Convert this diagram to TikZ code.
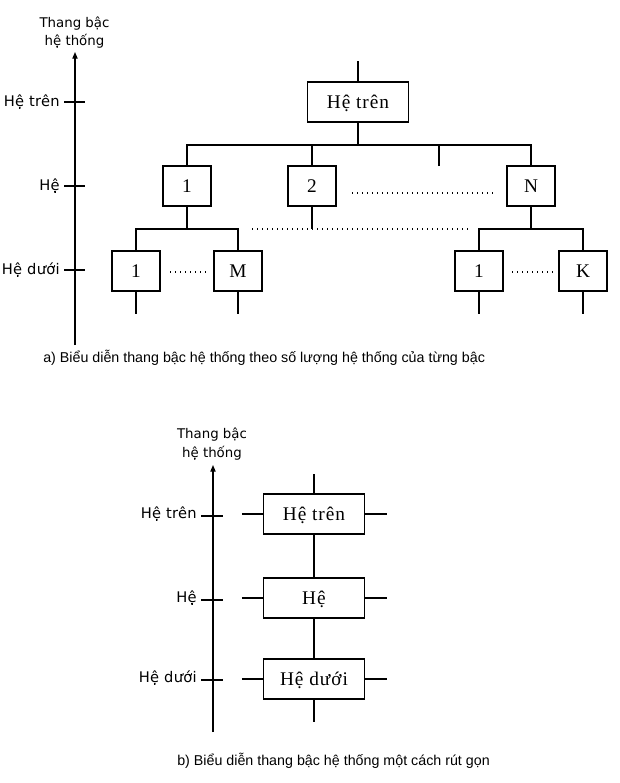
\documentclass[tikz,border=0pt]{standalone}
\usepackage{fontspec}
\setmainfont{Liberation Serif}[LetterSpace=5]
\newfontfamily\axf{DejaVu Sans}
\newfontfamily\labf{DejaVu Sans}[LetterSpace=2]
\newfontfamily\capf{Liberation Sans}
\usetikzlibrary{arrows.meta}
\tikzset{
  ln/.style={line width=0.8pt},
  axisline/.style={line width=0.8pt,-{Triangle[length=5pt,width=4pt]}},
  bx/.style={draw,line width=0.8pt,inner sep=0pt,minimum height=30pt,
    text height=10pt,text depth=0pt,font=\fontsize{14.5}{16}\selectfont},
  sbx/.style={bx,minimum width=36pt},
  wbx/.style={bx,minimum width=76pt},
  lab/.style={anchor=base east,inner sep=0pt,font=\labf\fontsize{11}{13}\selectfont},
  ttl/.style={anchor=base,inner sep=0pt,font=\axf\fontsize{10}{12}\selectfont},
  captxt/.style={anchor=base west,inner sep=0pt,font=\capf\fontsize{10.7}{13}\selectfont},
  dots/.style={line width=1pt,dash pattern=on 1pt off 2.75pt},
}
\begin{document}
\begin{tikzpicture}[x=0.75pt,y=-0.75pt]
\useasboundingbox (0,0) rectangle (619,783);

% ---------------- part a ----------------
\coordinate (aBot) at (75,345);
\coordinate (aTop) at (75,52);
\draw[axisline] (aBot) -- (aTop);
\node[ttl] (aT1) at (74.5,27) {Thang bậc};
\node[ttl] (aT2) at (74.5,45) {hệ thống};
\foreach \y/\n in {102/1,186/2,270/3}{
  \coordinate (atl\n) at (64,\y);
  \coordinate (atr\n) at (85,\y);
  \draw[ln] (atl\n) -- (atr\n);
}
\node[lab] (aL1) at (60,106) {Hệ trên};
\node[lab] (aL2) at (60,190) {Hệ};
\node[lab] (aL3) at (60,274) {Hệ dưới};

\node[wbx] (top) at (358,102) {Hệ trên};
\node[sbx] (n1) at (187,186) {1};
\node[sbx] (n2) at (312,186) {2};
\node[sbx] (nN) at (531,186) {N};
\node[sbx] (l1) at (136,271) {1};
\node[sbx] (lM) at (238,271) {M};
\node[sbx] (r1) at (479,271) {1};
\node[sbx] (rK) at (583,271) {K};

\coordinate (topin) at (358,61);
\coordinate (bus) at (358,145);
\coordinate (stub) at (439,166);
\draw[ln] (topin) -- (top.north);
\draw[ln] (top.south) -- (bus);
\draw[ln] (n1.north) |- (bus) -| (nN.north);
\draw[ln] (n2.north) -- (n2.north |- bus);
\draw[ln] (stub) -- (stub |- bus);

\coordinate (b1) at (187,229);
\draw[ln] (n1.south) -- (b1);
\draw[ln] (l1.north) |- (b1) -| (lM.north);
\coordinate (b2) at (312,229);
\draw[ln] (n2.south) -- (b2);
\coordinate (b3) at (531,229);
\draw[ln] (nN.south) -- (b3);
\draw[ln] (r1.north) |- (b3) -| (rK.north);

\foreach \b in {l1,lM,r1,rK}{
  \coordinate (\b e) at ([yshift=-16.5pt]\b.south);
  \draw[ln] (\b.south) -- (\b e);
}

\coordinate (d1a) at (352,193); \coordinate (d1b) at (493,193);
\coordinate (d2a) at (252,229); \coordinate (d2b) at (472,229);
\coordinate (d3a) at (170,272); \coordinate (d3b) at (210,272);
\coordinate (d4a) at (512,272); \coordinate (d4b) at (554,272);
\draw[dots] (d1a) -- (d1b);
\draw[dots] (d2a) -- (d2b);
\draw[dots] (d3a) -- (d3b);
\draw[dots] (d4a) -- (d4b);

\node[captxt] (capA) at (43,362) {a) Biểu diễn thang bậc hệ thống theo số lượng hệ thống của từng bậc};

% ---------------- part b ----------------
\coordinate (bBot) at (213,732);
\coordinate (bTop) at (213,465);
\draw[axisline] (bBot) -- (bTop);
\node[ttl] (bT1) at (212,438) {Thang bậc};
\node[ttl] (bT2) at (212,457) {hệ thống};
\foreach \y/\n in {516/1,600/2,680/3}{
  \coordinate (btl\n) at (201,\y);
  \coordinate (btr\n) at (223,\y);
  \draw[ln] (btl\n) -- (btr\n);
}
\node[lab] (bL1) at (197,518) {Hệ trên};
\node[lab] (bL2) at (197,602) {Hệ};
\node[lab] (bL3) at (197,682) {Hệ dưới};

\node[wbx] (B1) at (314,514) {Hệ trên};
\node[wbx] (B2) at (314,598) {Hệ};
\node[wbx] (B3) at (314,679) {Hệ dưới};

\coordinate (Bin) at (314,474);
\coordinate (Bout) at (314,722);
\draw[ln] (Bin) -- (B1.north);
\draw[ln] (B1.south) -- (B2.north);
\draw[ln] (B2.south) -- (B3.north);
\draw[ln] (B3.south) -- (Bout);
\foreach \b in {B1,B2,B3}{
  \coordinate (\b L) at ([xshift=-15.75pt]\b.west);
  \coordinate (\b R) at ([xshift=16.5pt]\b.east);
  \draw[ln] (\b L) -- (\b.west);
  \draw[ln] (\b.east) -- (\b R);
}

\node[captxt] (capB) at (177,765) {b) Biểu diễn thang bậc hệ thống một cách rút gọn};
\end{tikzpicture}
\end{document}
